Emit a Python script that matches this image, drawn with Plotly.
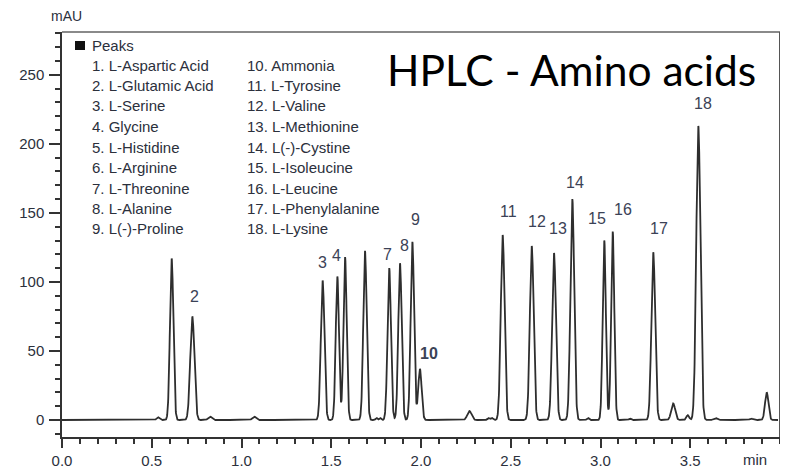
import numpy as np
import plotly.graph_objects as go

# ---------------- data ----------------
peak_labels = ["1", "2", "3", "4", "5", "6", "7", "8", "9", "10",
               "11", "12", "13", "14", "15", "16", "17", "18"]
peak_times = [0.611, 0.726, 1.452, 1.534, 1.577, 1.688, 1.823, 1.883, 1.952, 1.994,
              2.455, 2.617, 2.741, 2.843, 3.021, 3.068, 3.294, 3.545]
peak_heights = [117, 75, 101, 104, 118, 122.5, 110, 113.5, 129, 37,
                134, 126, 121, 160, 130, 136.5, 121.5, 213]
peak_widths = [0.0095, 0.0115, 0.01, 0.009, 0.009, 0.0095, 0.0095, 0.0095, 0.0095, 0.0095,
               0.0105, 0.0105, 0.0105, 0.0105, 0.0088, 0.0088, 0.0105, 0.0115]
shown_labels = ["2", "3", "4", "7", "8", "9", "10", "11", "12", "13",
                "14", "15", "16", "17", "18"]

minor_times = [0.535, 0.824, 1.07, 1.752, 1.772, 2.27, 2.375, 2.395, 2.93, 3.165,
               3.405, 3.486, 3.64, 3.84, 3.926]
minor_heights = [2, 2.5, 2.5, 1.5, 1.5, 6.5, 1.5, 1.5, 1.5, 1,
                 12, 3.5, 1.5, 1, 20]
minor_widths = [0.008, 0.01, 0.01, 0.005, 0.005, 0.012, 0.006, 0.006, 0.006, 0.006,
                0.011, 0.008, 0.01, 0.01, 0.0095]

legend_col1 = ["1. L-Aspartic Acid", "2. L-Glutamic Acid", "3. L-Serine", "4. Glycine",
               "5. L-Histidine", "6. L-Arginine", "7. L-Threonine", "8. L-Alanine",
               "9. L(-)-Proline"]
legend_col2 = ["10. Ammonia", "11. L-Tyrosine", "12. L-Valine", "13. L-Methionine",
               "14. L(-)-Cystine", "15. L-Isoleucine", "16. L-Leucine",
               "17. L-Phenylalanine", "18. L-Lysine"]

x_ticks = [0.0, 0.5, 1.0, 1.5, 2.0, 2.5, 3.0, 3.5, 4.0]
x_ticktext = ["0.0", "0.5", "1.0", "1.5", "2.0", "2.5", "3.0", "3.5", ""]
y_ticks = [0, 50, 100, 150, 200, 250]

# ---------------- signal built from the peak table ----------------
t = np.arange(0.0, 3.99, 0.001)
signal = np.zeros_like(t)
for tm, h, w in zip(peak_times + minor_times, peak_heights + minor_heights,
                    peak_widths + minor_widths):
    signal += h * np.exp(-0.5 * ((t - tm) / w) ** 2)

# ---------------- layout geometry (window pixels) ----------------
# the page body has an 8 px default margin, so the figure is sized to fill the
# window from that offset
OFF = 8
WIN_W, WIN_H = 788, 469
PL, PR, PT, PB = 62, 780, 32, 437          # plot area in window pixels
W, H = WIN_W - OFF, WIN_H - OFF
L, R, T, B = PL - OFF, W - (PR - OFF), PT - OFF, H - (PB - OFF)
PW, PH = PR - PL, PB - PT
FONT = "Arial, Liberation Sans, sans-serif"
TXT = "#2b303c"


def px(xw):
    return (xw - PL) / PW


def py(yw):
    return (PB - yw) / PH


fig = go.Figure()
fig.add_trace(go.Scatter(x=t, y=signal, mode="lines",
                         line=dict(color="#2e2e2e", width=1.8),
                         hoverinfo="skip", showlegend=False))

annotations = []
# peak labels: (dx, dy) pixel offsets from the apex
label_offsets = {"2": (2, 20), "3": (0, 18), "4": (-1, 21), "7": (-2, 14), "8": (4, 18),
                 "9": (3, 22), "10": (9, 15), "11": (6, 23), "12": (5, 25), "13": (4, 24),
                 "14": (3, 17), "15": (-7, 22), "16": (10, 22), "17": (6, 24), "18": (5, 22)}
for lab, tm, h in zip(peak_labels, peak_times, peak_heights):
    if lab not in shown_labels:
        continue
    dx, dy = label_offsets[lab]
    text = "<b>10</b>" if lab == "10" else lab
    annotations.append(dict(x=tm, y=h, xref="x", yref="y", text=text, showarrow=False,
                            xanchor="center", yanchor="middle", xshift=dx, yshift=dy,
                            font=dict(family=FONT, size=16, color="#3b4256")))

# legend block
for i, (a, b) in enumerate(zip(legend_col1, legend_col2)):
    yy = 65 + i * 20.5
    annotations.append(dict(x=px(90), y=py(yy), xref="paper", yref="paper", text=a,
                            showarrow=False, xanchor="left", yanchor="middle",
                            font=dict(family=FONT, size=15, color=TXT)))
    annotations.append(dict(x=px(245), y=py(yy), xref="paper", yref="paper", text=b,
                            showarrow=False, xanchor="left", yanchor="middle",
                            font=dict(family=FONT, size=15, color=TXT)))
annotations.append(dict(x=px(90), y=py(45), xref="paper", yref="paper", text="Peaks",
                        showarrow=False, xanchor="left", yanchor="middle",
                        font=dict(family=FONT, size=15, color=TXT)))

# title
annotations.append(dict(x=px(385), y=py(70), xref="paper", yref="paper",
                        text="HPLC - Amino acids", showarrow=False,
                        xanchor="left", yanchor="middle",
                        font=dict(family="Lato", size=42.5, color="#000000")))
# axis units
annotations.append(dict(x=px(66), y=py(16.5), xref="paper", yref="paper", text="mAU",
                        showarrow=False, xanchor="center", yanchor="middle",
                        font=dict(family=FONT, size=14, color=TXT)))
annotations.append(dict(x=px(755), y=py(459), xref="paper", yref="paper", text="min",
                        showarrow=False, xanchor="center", yanchor="middle",
                        font=dict(family=FONT, size=15, color=TXT)))

shapes = [
    dict(type="line", xref="paper", yref="paper", x0=0, x1=1, y0=1, y1=1,
         line=dict(color="#8a8a8a", width=2)),
    dict(type="line", xref="paper", yref="paper", x0=1, x1=1, y0=0, y1=1,
         line=dict(color="#555555", width=2)),
    dict(type="rect", xref="paper", yref="paper", x0=px(75), x1=px(85),
         y0=py(50), y1=py(41), fillcolor="#111111", line=dict(width=0)),
]

fig.update_layout(
    width=W, height=H,
    margin=dict(l=L, r=R, t=T, b=B, pad=0),
    paper_bgcolor="white", plot_bgcolor="white",
    showlegend=False,
    annotations=annotations,
    shapes=shapes,
    xaxis=dict(range=[0, 4.0], tickmode="array", tickvals=x_ticks, ticktext=x_ticktext,
               ticks="outside", ticklen=9, tickwidth=1.5, tickcolor="#333333",
               showline=True, linecolor="#333333", linewidth=1.5,
               showgrid=False, zeroline=False, automargin=False,
               tickfont=dict(family=FONT, size=15, color=TXT),
               minor=dict(tickvals=[round(v, 1) for v in np.arange(0, 4.01, 0.1)],
                          ticks="outside", ticklen=5, tickwidth=1.5, tickcolor="#333333",
                          showgrid=False)),
    yaxis=dict(range=[-12.3, 281], tickmode="array", tickvals=y_ticks,
               ticks="outside", ticklen=11, tickwidth=1.5, tickcolor="#333333",
               ticklabelstandoff=2,
               showline=True, linecolor="#333333", linewidth=1.5,
               showgrid=False, zeroline=False, automargin=False,
               tickfont=dict(family=FONT, size=15, color=TXT),
               minor=dict(tickvals=list(range(-10, 281, 10)),
                          ticks="outside", ticklen=5, tickwidth=1.5, tickcolor="#333333",
                          showgrid=False)),
)

fig.write_html("out.html")
